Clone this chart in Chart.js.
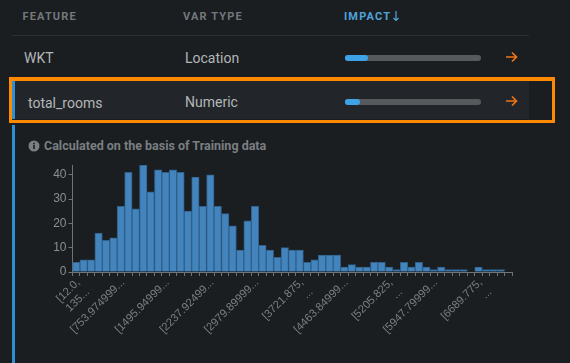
<!DOCTYPE html>
<html>
<head>
<meta charset="utf-8">
<script src="https://cdn.jsdelivr.net/npm/chart.js@4"></script>
<style>
  html, body { margin: 0; padding: 0; background: #1a1e21; }
  body { width: 570px; height: 363px; overflow: hidden; position: relative; font-family: Roboto, sans-serif; }
  .abs { position: absolute; white-space: nowrap; }
  .head { top: 10px; font-size: 11px; font-weight: 700; letter-spacing: 1.15px; line-height: 13px; color: #74787b; }
  .cell { font-size: 14px; line-height: 16px; color: #b4b6b8; }
  .track { left: 345px; width: 136px; height: 6px; border-radius: 3px; background: #565a5c; }
  .fill { height: 6px; border-radius: 3px; background: #3ea2e6; }
  canvas { position: absolute; left: 0; top: 150px; }
</style>
</head>
<body>
  <div class="abs" style="left:12px;top:35px;width:517px;height:1px;background:#2a2e31"></div>
  <div class="abs" style="left:12px;top:81px;width:517px;height:38px;background:#22262a"></div>
  <div class="abs" style="left:12px;top:81px;width:3px;height:38px;background:#2f8fd0"></div>
  <div class="abs" style="left:12px;top:125px;width:3px;height:238px;background:#2f8fd0"></div>
  <div class="abs" style="left:9px;top:77px;width:540px;height:39px;border:3px solid #ff8a00;border-top-width:4px"></div>

  <div class="abs head" style="left:22.5px">FEATURE</div>
  <div class="abs head" style="left:183px">VAR TYPE</div>
  <div class="abs head" style="left:344px;color:#4ea3dc">IMPACT</div>
  <svg class="abs" style="left:392px;top:10px" width="8" height="12" viewBox="0 0 8 12"><path d="M4 1V10.5M1.5 8L4 10.5L6.5 8" fill="none" stroke="#4ea3dc" stroke-width="1.2"/></svg>

  <div class="abs cell" style="left:24px;top:50px">WKT</div>
  <div class="abs cell" style="left:185px;top:50px">Location</div>
  <div class="abs track" style="top:55px"><div class="fill" id="impact0"></div></div>
  <svg class="abs" style="left:505px;top:51px" width="14" height="12" viewBox="0 0 14 12"><path d="M1 6H11.5M7 1.5L11.5 6L7 10.5" fill="none" stroke="#ee7412" stroke-width="1.7"/></svg>

  <div class="abs cell" style="left:28px;top:95px">total_rooms</div>
  <div class="abs cell" style="left:185px;top:94px">Numeric</div>
  <div class="abs track" style="top:99px"><div class="fill" id="impact1"></div></div>
  <svg class="abs" style="left:505px;top:95px" width="14" height="12" viewBox="0 0 14 12"><path d="M1 6H11.5M7 1.5L11.5 6L7 10.5" fill="none" stroke="#ee7412" stroke-width="1.7"/></svg>

  <svg class="abs" style="left:28px;top:140px" width="12" height="12" viewBox="0 0 12 12"><circle cx="6" cy="6" r="5.5" fill="#7b7f82"/><rect x="5.2" y="5" width="1.6" height="4" fill="#1a1e21"/><rect x="5.2" y="2.8" width="1.6" height="1.5" fill="#1a1e21"/></svg>
  <div class="abs" style="left:44px;top:138.5px;font-size:12.5px;font-weight:700;line-height:14px;color:#7b7f82">Calculated on the basis of Training data</div>

  <canvas id="histChart" width="570" height="213"></canvas>

<script>
  const counts = [4, 5, 5, 16, 13, 14, 27, 41, 26, 44, 33, 42, 41, 42, 41, 25, 39, 27, 40, 27,
    24, 19, 9, 21, 27, 11, 9, 6, 10, 9, 9, 4, 5, 7, 7, 7, 2, 3, 2, 2,
    4, 4, 2, 1, 4, 2, 4, 2, 1, 2, 1, 1, 1, 0, 2, 1, 1, 1, 0];

  const tickLabels = [
    ["[12.0,", "135..."],
    "[753.974999...",
    "[1495.94999...",
    "[2237.92499...",
    "[2979.89999...",
    ["[3721.875,", "..."],
    "[4463.84999...",
    ["[5205.825,", "..."],
    "[5947.79999...",
    ["[6689.775,", "..."]
  ];
  const tickEvery = 6;

  const yMax = 44;
  const yStep = 10;

  // share of the track filled, per row
  const impact = [0.17, 0.11];

  impact.forEach(function (v, i) {
    document.getElementById('impact' + i).style.width = (v * 100) + '%';
  });

  const categories = counts.map(function (c, i) {
    return i % tickEvery === 0 ? tickLabels[i / tickEvery] : '';
  });

  const ctx = document.getElementById('histChart').getContext('2d');

  new Chart(ctx, {
    type: 'bar',
    data: {
      labels: categories,
      datasets: [{
        data: counts,
        backgroundColor: '#4484bd',
        borderColor: '#2f5f8a',
        borderWidth: 1,
        categoryPercentage: 1,
        barPercentage: 1
      }]
    },
    options: {
      responsive: false,
      animation: false,
      layout: { padding: { top: 15, right: 58, bottom: 0, left: 0 } },
      plugins: { legend: { display: false }, tooltip: { enabled: false } },
      scales: {
        x: {
          afterFit: function (scale) { scale.height = 91; },
          border: { color: '#6f7376' },
          grid: { drawOnChartArea: false, color: '#6f7376', tickLength: 4 },
          ticks: {
            autoSkip: false,
            minRotation: 45,
            maxRotation: 45,
            padding: 0,
            labelOffset: 2,
            color: '#7b7f82',
            font: { family: 'Liberation Sans', size: 11.2 }
          }
        },
        y: {
          min: 0,
          max: yMax,
          afterFit: function (scale) { scale.width = 72.5; },
          border: { color: '#6f7376' },
          grid: { drawOnChartArea: false, color: '#6f7376', tickLength: 4 },
          ticks: {
            stepSize: yStep,
            includeBounds: false,
            padding: 2,
            color: '#8a8e91',
            font: { family: 'Liberation Sans', size: 12 }
          }
        }
      }
    }
  });
</script>
</body>
</html>
